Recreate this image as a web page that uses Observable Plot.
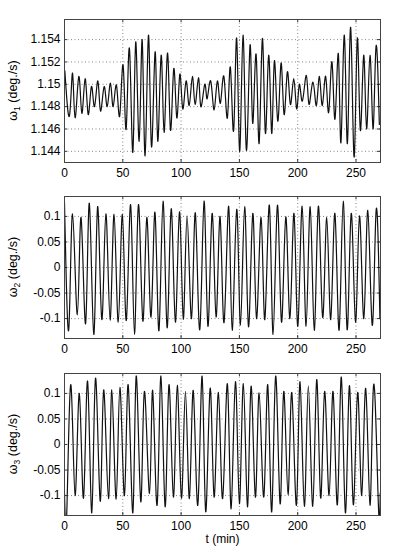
<!DOCTYPE html>
<html><head><meta charset="utf-8">
<script src="https://cdn.jsdelivr.net/npm/d3@7"></script>
<script src="https://cdn.jsdelivr.net/npm/@observablehq/plot@0.6"></script>
<style>
body{margin:0;background:#fff;}
#chart{width:397px;height:548px;}
#chart svg{display:block;}
</style></head><body><div id="chart"></div>
<script>
// Tick values
const tTicks = [0, 50, 100, 150, 200, 250];
const w1Ticks = [1.144, 1.146, 1.148, 1.15, 1.152, 1.154];
const w23Ticks = [-0.1, -0.05, 0, 0.05, 0.1];

// Panel 1: omega_1 extrema (t in min, value in deg/s)
const w1Time = [0.3, 4.3, 6.9, 9.1, 12.3, 14.9, 17.7, 20.3, 23.1, 25.7, 28.6, 30.9, 34.0, 36.6, 39.4, 41.7, 44.6, 47.4, 50.3, 52.9, 55.7, 58.6, 61.1, 64.0, 66.6, 69.1, 72.0, 74.6, 77.7, 80.0, 82.9, 85.4, 88.3, 90.9, 93.7, 96.3, 98.9, 101.4, 104.3, 106.9, 109.7, 112.0, 114.9, 116.9, 120.3, 122.3, 125.4, 128.3, 131.1, 133.7, 136.7, 139.7, 142.3, 145.1, 147.7, 150.3, 153.1, 156.0, 159.1, 161.4, 164.3, 166.9, 169.7, 172.3, 175.1, 177.7, 180.0, 182.9, 185.7, 188.3, 191.1, 193.7, 196.6, 199.1, 201.4, 204.0, 207.4, 209.7, 213.1, 216.0, 218.6, 221.1, 224.0, 226.6, 229.4, 232.0, 234.9, 237.1, 240.0, 242.6, 245.4, 248.3, 251.1, 253.7, 256.6, 259.1, 262.0, 264.6, 267.1, 270.0];
const w1Value = [1.1512, 1.1472, 1.1510, 1.1470, 1.1507, 1.1474, 1.1505, 1.1473, 1.1498, 1.1480, 1.1503, 1.1476, 1.1498, 1.1480, 1.1501, 1.1480, 1.1499, 1.1472, 1.1517, 1.1460, 1.1532, 1.1439, 1.1538, 1.1449, 1.1540, 1.1436, 1.1544, 1.1444, 1.1529, 1.1449, 1.1526, 1.1457, 1.1528, 1.1459, 1.1514, 1.1470, 1.1509, 1.1478, 1.1503, 1.1481, 1.1507, 1.1482, 1.1506, 1.1480, 1.1500, 1.1487, 1.1503, 1.1477, 1.1503, 1.1483, 1.1507, 1.1470, 1.1515, 1.1459, 1.1541, 1.1440, 1.1544, 1.1441, 1.1535, 1.1465, 1.1527, 1.1447, 1.1541, 1.1456, 1.1526, 1.1456, 1.1521, 1.1467, 1.1519, 1.1473, 1.1511, 1.1482, 1.1505, 1.1478, 1.1500, 1.1485, 1.1508, 1.1482, 1.1502, 1.1481, 1.1507, 1.1481, 1.1507, 1.1475, 1.1520, 1.1469, 1.1527, 1.1448, 1.1544, 1.1447, 1.1551, 1.1435, 1.1541, 1.1459, 1.1526, 1.1460, 1.1526, 1.1460, 1.1533, 1.1464];

// Panel 2: omega_2 extrema
const w2Time = [0, 3.7, 6.9, 11.0, 14.2, 18.1, 21.3, 25.1, 28.4, 32.0, 35.5, 39.1, 42.5, 46.1, 49.6, 53.0, 56.7, 60.0, 63.4, 67.2, 70.6, 74.2, 77.6, 81.0, 84.5, 88.0, 91.5, 95.1, 98.6, 101.9, 105.1, 108.9, 112.2, 116.0, 119.7, 123.0, 126.6, 130.0, 133.4, 136.8, 140.8, 143.8, 147.7, 150.9, 154.5, 157.8, 161.5, 164.7, 168.6, 171.8, 175.7, 178.9, 182.6, 186.1, 189.8, 193.3, 196.8, 200.1, 203.8, 207.2, 210.7, 214.2, 217.7, 221.4, 224.9, 228.3, 231.9, 235.5, 239.0, 242.4, 245.9, 249.6, 253.0, 256.7, 260.1, 263.9, 267.2, 270.5];
const w2Value = [0.127, -0.120, 0.105, -0.093, 0.098, -0.110, 0.126, -0.131, 0.119, -0.102, 0.105, -0.103, 0.104, -0.107, 0.104, -0.104, 0.123, -0.131, 0.123, -0.105, 0.098, -0.097, 0.108, -0.124, 0.130, -0.118, 0.115, -0.107, 0.109, -0.101, 0.101, -0.100, 0.107, -0.122, 0.130, -0.115, 0.106, -0.097, 0.100, -0.108, 0.120, -0.123, 0.114, -0.113, 0.119, -0.116, 0.106, -0.100, 0.098, -0.102, 0.122, -0.131, 0.122, -0.107, 0.099, -0.100, 0.106, -0.115, 0.120, -0.115, 0.119, -0.123, 0.120, -0.098, 0.098, -0.102, 0.106, -0.123, 0.130, -0.122, 0.106, -0.107, 0.101, -0.100, 0.112, -0.113, 0.110, -0.100];

// Panel 3: omega_3 extrema
const w3Time = [0, 2.0, 5.5, 9.1, 12.7, 16.3, 19.8, 23.4, 26.6, 30.6, 33.6, 37.7, 40.6, 44.3, 47.5, 51.4, 54.6, 58.6, 61.5, 65.4, 68.5, 72.9, 75.6, 79.4, 82.7, 86.3, 89.6, 93.4, 96.7, 100.3, 103.7, 107.1, 110.4, 114.3, 118.0, 121.1, 124.9, 128.3, 132.0, 135.6, 139.7, 142.9, 146.6, 150.0, 153.4, 156.9, 160.0, 163.7, 166.9, 170.9, 174.3, 177.7, 181.1, 184.9, 188.0, 191.7, 194.9, 198.9, 202.0, 205.7, 209.1, 212.9, 216.3, 219.7, 223.1, 226.9, 230.3, 234.0, 237.4, 240.9, 244.3, 247.7, 251.4, 254.9, 258.3, 262.0, 265.1, 269.1, 270.8];
const w3Value = [-0.095, -0.130, 0.117, -0.100, 0.100, -0.105, 0.124, -0.134, 0.130, -0.111, 0.107, -0.106, 0.107, -0.107, 0.112, -0.100, 0.117, -0.134, 0.134, -0.112, 0.104, -0.096, 0.106, -0.119, 0.134, -0.122, 0.117, -0.103, 0.116, -0.105, 0.104, -0.106, 0.106, -0.119, 0.134, -0.132, 0.110, -0.103, 0.102, -0.106, 0.119, -0.126, 0.123, -0.116, 0.119, -0.122, 0.114, -0.103, 0.101, -0.103, 0.117, -0.132, 0.134, -0.116, 0.104, -0.098, 0.102, -0.119, 0.123, -0.121, 0.115, -0.121, 0.127, -0.105, 0.104, -0.100, 0.104, -0.118, 0.132, -0.134, 0.115, -0.118, 0.102, -0.100, 0.110, -0.119, 0.117, -0.113, -0.095];

const xLabelText = "t (min)";
const unitText = " (deg./s)";

const FONT = "'Liberation Sans', Arial, Helvetica, sans-serif";
const fmt = d => String(+d.toFixed(4));

function panel({time, value, yDomain, yTicks, height, mt, mb, sub, xLabel}) {
  const data = time.map((t, i) => ({t, v: value[i]}));
  const innerH = height - mt - mb;
  const innerW = 397 - 64 - 17;
  const marks = [
    Plot.gridX(tTicks, {stroke: "#666", strokeOpacity: 1, strokeWidth: 0.8, strokeDasharray: "1,2.5"}),
    Plot.gridY(yTicks, {stroke: "#666", strokeOpacity: 1, strokeWidth: 0.8, strokeDasharray: "1,2.5"}),
    Plot.tickX(tTicks, {x: d => d, insetTop: innerH - 3, stroke: "#333"}),
    Plot.tickX(tTicks, {x: d => d, insetBottom: innerH - 3, stroke: "#333"}),
    Plot.tickY(yTicks, {y: d => d, insetRight: innerW - 3, stroke: "#333"}),
    Plot.tickY(yTicks, {y: d => d, insetLeft: innerW - 3, stroke: "#333"}),
    Plot.line(data, {x: "t", y: "v", curve: "natural", stroke: "#111", strokeWidth: 1.2, clip: true}),
    Plot.axisX(tTicks, {tickSize: 0, tickPadding: 6, tickFormat: d => String(d), label: null, fontSize: 12}),
    Plot.axisY(yTicks, {tickSize: 0, tickPadding: 4, tickFormat: fmt, label: null, fontSize: 12}),
    Plot.frame({stroke: "#444", strokeWidth: 1})
  ];
  if (xLabel) marks.push(Plot.text([xLabel], {text: d => d, frameAnchor: "bottom", dy: 27, fontSize: 12}));
  const svg = Plot.plot({
    width: 397, height,
    marginLeft: 64, marginRight: 17, marginTop: mt, marginBottom: mb,
    style: {fontFamily: FONT, fontSize: "12px", color: "#000", background: "#fff", overflow: "visible"},
    x: {domain: [0, 271]},
    y: {domain: yDomain},
    marks
  });
  const cy = mt + innerH / 2;
  const lab = d3.select(svg).append("text")
    .attr("transform", `translate(17, ${cy}) rotate(-90)`)
    .attr("text-anchor", "middle")
    .attr("font-family", FONT)
    .attr("font-size", 12.5)
    .attr("fill", "#000");
  lab.append("tspan").text("ω");
  lab.append("tspan").attr("font-size", 8.5).attr("dy", 3).text(sub);
  lab.append("tspan").attr("dy", -3).text(unitText);
  return svg;
}

const root = document.getElementById("chart");
root.appendChild(panel({time: w1Time, value: w1Value, yDomain: [1.143, 1.1558], yTicks: w1Ticks, height: 180, mt: 19, mb: 18, sub: "1"}));
root.appendChild(panel({time: w2Time, value: w2Value, yDomain: [-0.139, 0.139], yTicks: w23Ticks, height: 177, mt: 16, mb: 19, sub: "2"}));
root.appendChild(panel({time: w3Time, value: w3Value, yDomain: [-0.139, 0.139], yTicks: w23Ticks, height: 191, mt: 16, mb: 33, sub: "3", xLabel: xLabelText}));
</script>
</body></html>
